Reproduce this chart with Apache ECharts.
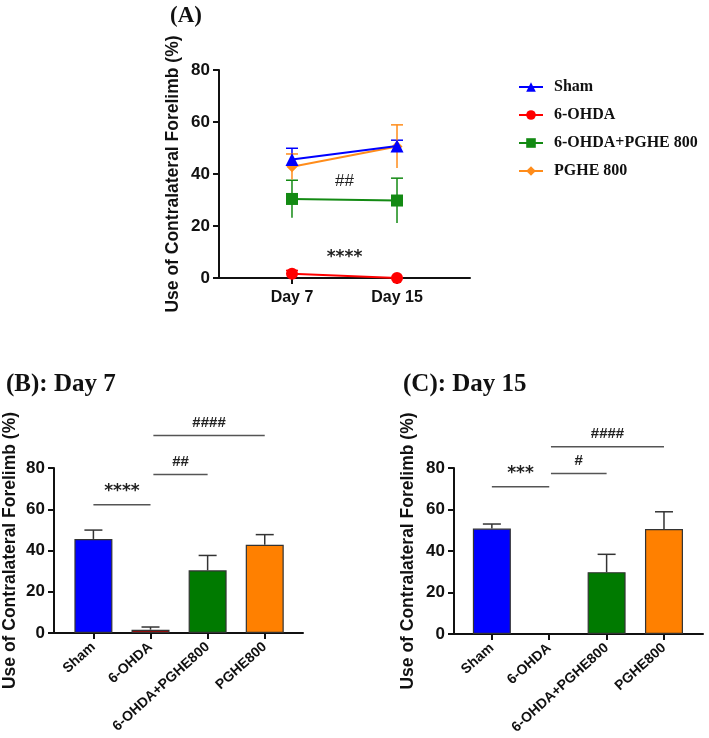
<!DOCTYPE html>
<html>
<head>
<meta charset="utf-8">
<script src="https://cdn.jsdelivr.net/npm/echarts@6/dist/echarts.min.js"></script>
<style>
  html, body { margin: 0; padding: 0; background: #fff; }
  #chart { width: 709px; height: 738px; }
</style>
</head>
<body>
<div id="chart"></div>
<script>
// groups and days
const groups = ["Sham", "6-OHDA", "6-OHDA+PGHE800", "PGHE800"];
const legendNames = ["Sham", "6-OHDA", "6-OHDA+PGHE 800", "PGHE 800"];
const days = ["Day 7", "Day 15"];

// mean and SEM
const day7Mean = [45.6, 1.6, 30.4, 42.8];
const day7Err = [4.3, 1.3, 7.2, 4.9];
const day15Mean = [50.8, 0, 29.8, 50.6];
const day15Err = [2.2, 0, 8.6, 8.3];

// significance marks: [from, to, y, text]
const sigDay7 = [[1, 2, 62.2, "****"], [2.05, 3, 76.8, "##"], [2.05, 4, 95.7, "####"]];
const sigDay15 = [[1, 2, 71, "***"], [2.03, 3, 77.3, "#"], [2.03, 4, 90.3, "####"]];
// text marks on panel A: [x, y, text]
const sigLines = [[1.5, 37, "##"], [1.5, 7.8, "****"]];

const yName = "Use of Contralateral Forelimb (%)";
const lineColors = ["#0000ff", "#ff0000", "#138a13", "#ff8c1a"];
const barColors = ["#0000ff", "#b00000", "#007a00", "#ff8000"];
const symbols = ["triangle", "circle", "rect", "diamond"];
const symbolSizes = [13, 12, 12, 11];

const sans = "Liberation Sans, Arial, sans-serif";
const serif = "Liberation Serif, Times New Roman, serif";

const chart = echarts.init(document.getElementById("chart"));

function yAxis(gridIndex, nameGap) {
  return {
    gridIndex,
    type: "value",
    min: 0,
    max: 80,
    interval: 20,
    name: yName,
    nameLocation: "middle",
    nameGap,
    nameTextStyle: { fontFamily: sans, fontWeight: "bold", fontSize: 17.5, color: "#111" },
    axisLine: { show: true, lineStyle: { color: "#111", width: 2 } },
    axisTick: { show: true, length: 6, lineStyle: { color: "#111", width: 2 } },
    axisLabel: { margin: 9, fontFamily: sans, fontWeight: "bold", fontSize: 17, color: "#111" },
    splitLine: { show: false },
  };
}

function xAxis(gridIndex, min, max, labels, rotate) {
  const vals = labels.map((_, i) => i + 1);
  return {
    gridIndex,
    type: "value",
    min,
    max,
    axisLine: { show: true, onZero: false, lineStyle: { color: "#111", width: 2 } },
    axisTick: { show: true, customValues: vals, length: 6, lineStyle: { color: "#111", width: 2 } },
    axisLabel: {
      customValues: vals,
      formatter: (v) => labels[Math.round(v) - 1],
      rotate,
      margin: 12,
      fontFamily: sans,
      fontWeight: "bold",
      fontSize: rotate ? 14 : 16,
      color: "#111",
    },
    splitLine: { show: false },
  };
}

function errorSeries(xi, yi, items, color, capHalf, z) {
  return {
    type: "custom",
    xAxisIndex: xi,
    yAxisIndex: yi,
    clip: false,
    silent: true,
    z,
    data: items,
    renderItem: (params, api) => {
      const x = api.value(0);
      const lo = api.coord([x, api.value(1)]);
      const hi = api.coord([x, api.value(2)]);
      const style = { stroke: color, lineWidth: 1.5 };
      const children = [
        { type: "line", shape: { x1: lo[0], y1: lo[1], x2: hi[0], y2: hi[1] }, style },
        { type: "line", shape: { x1: hi[0] - capHalf, y1: hi[1], x2: hi[0] + capHalf, y2: hi[1] }, style },
      ];
      if (api.value(1) !== api.value(3)) {
        children.push({ type: "line", shape: { x1: lo[0] - capHalf, y1: lo[1], x2: lo[0] + capHalf, y2: lo[1] }, style });
      }
      return { type: "group", children };
    },
  };
}

function sigFont(text) {
  return text.indexOf("*") >= 0 ? "bold 17px DejaVu Sans" : "bold 15px " + sans;
}

function bracketSeries(xi, yi, marks) {
  return {
    type: "custom",
    xAxisIndex: xi,
    yAxisIndex: yi,
    clip: false,
    silent: true,
    data: marks.map((m) => [m[0], m[2]]),
    renderItem: (params, api) => {
      const m = marks[params.dataIndex];
      const p1 = api.coord([m[0], m[2]]);
      const p2 = api.coord([m[1], m[2]]);
      return {
        type: "group",
        children: [
          { type: "line", shape: { x1: p1[0], y1: p1[1], x2: p2[0], y2: p2[1] }, style: { stroke: "#555", lineWidth: 1.5 } },
          {
            type: "text",
            x: (p1[0] + p2[0]) / 2,
            y: p1[1] - 13,
            style: { text: m[3], font: sigFont(m[3]), fill: "#222", align: "center", verticalAlign: "middle" },
          },
        ],
      };
    },
  };
}

const series = [];

// panel A: line series per group
groups.forEach((g, i) => {
  series.push({
    name: legendNames[i],
    type: "line",
    xAxisIndex: 0,
    yAxisIndex: 0,
    data: [[1, day7Mean[i]], [2, day15Mean[i]]],
    symbol: symbols[i],
    symbolSize: symbolSizes[i],
    showSymbol: true,
    lineStyle: { color: lineColors[i], width: 2 },
    itemStyle: { color: lineColors[i] },
    z: 5 - (i === 3 ? 1 : 0),
  });
  series.push(
    errorSeries(0, 0, [
      [1, day7Mean[i] - day7Err[i], day7Mean[i] + day7Err[i], day7Mean[i] - day7Err[i]],
      [2, day15Mean[i] - day15Err[i], day15Mean[i] + day15Err[i], day15Mean[i] - day15Err[i]],
    ], lineColors[i], 6, 3)
  );
});

series.push({
  type: "custom",
  xAxisIndex: 0,
  yAxisIndex: 0,
  clip: false,
  silent: true,
  data: sigLines.map((s) => [s[0], s[1]]),
  renderItem: (params, api) => {
    const s = sigLines[params.dataIndex];
    const p = api.coord([s[0], s[1]]);
    return {
      type: "text",
      x: p[0],
      y: p[1],
      style: { text: s[2], font: s[2].indexOf("*") >= 0 ? "bold 17px DejaVu Sans" : "17px " + sans, fill: "#222", align: "center", verticalAlign: "middle" },
    };
  },
});

// panels B and C: bars
function barSeries(xi, yi, means) {
  return {
    type: "bar",
    xAxisIndex: xi,
    yAxisIndex: yi,
    barWidth: 38,
    data: means.map((v, i) => ({
      value: [i + 1, v],
      itemStyle: { color: barColors[i], borderColor: "#333", borderWidth: v > 0 ? 1.2 : 0 },
    })),
    z: 2,
  };
}

series.push(barSeries(1, 1, day7Mean));
series.push(errorSeries(1, 1, day7Mean.map((v, i) => [i + 1, v, v + day7Err[i], v]), "#333", 9, 1));
series.push(bracketSeries(1, 1, sigDay7));

series.push(barSeries(2, 2, day15Mean));
series.push(errorSeries(2, 2, day15Mean.map((v, i) => [i + 1, v, v + day15Err[i], v]).filter((d) => d[2] > d[1]), "#333", 9, 1));
series.push(bracketSeries(2, 2, sigDay15));

chart.setOption({
  animation: false,
  backgroundColor: "#fff",
  title: [
    { text: "(A)", left: 165, top: 0, textStyle: { fontFamily: serif, fontWeight: "bold", fontSize: 23, color: "#111" } },
    { text: "(B): Day 7", left: 1, top: 367, textStyle: { fontFamily: serif, fontWeight: "bold", fontSize: 25, color: "#111" } },
    { text: "(C): Day 15", left: 398, top: 367, textStyle: { fontFamily: serif, fontWeight: "bold", fontSize: 25, color: "#111" } },
  ],
  legend: {
    orient: "vertical",
    left: 513,
    top: 74,
    itemWidth: 24,
    itemHeight: 12,
    itemGap: 12,
    data: legendNames,
    textStyle: { fontFamily: serif, fontWeight: "bold", fontSize: 16, color: "#111", padding: [0, 0, 0, 6] },
  },
  grid: [
    { left: 219, right: 239, top: 70, bottom: 460 },
    { left: 53, right: 406, top: 468, bottom: 105 },
    { left: 454, right: 6, top: 468, bottom: 104 },
  ],
  xAxis: [
    xAxis(0, 0.305, 2.695, days, 0),
    xAxis(1, 0.31, 4.67, groups, 42),
    xAxis(2, 0.34, 4.68, groups, 42),
  ],
  yAxis: [yAxis(0, 37), yAxis(1, 35), yAxis(2, 37)],
  series,
});
</script>
</body>
</html>
